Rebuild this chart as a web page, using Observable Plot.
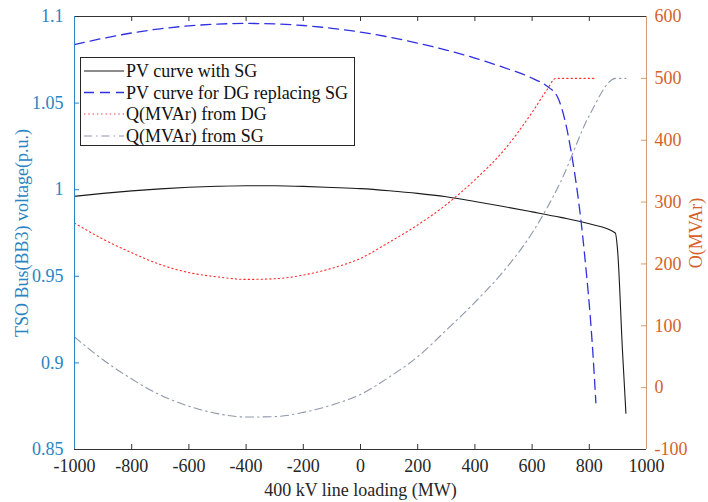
<!DOCTYPE html>
<html>
<head>
<meta charset="utf-8">
<script src="https://cdn.jsdelivr.net/npm/d3@7"></script>
<script src="https://cdn.jsdelivr.net/npm/@observablehq/plot@0.6"></script>
<style>
  html, body { margin: 0; padding: 0; background: #fff; }
  #wrap { position: relative; width: 708px; height: 502px; }
  #legend { position: absolute; left: 80px; top: 57px; }
</style>
</head>
<body>
<div id="wrap"></div>
<script>
// ---- data ----
const xTicks = [-1000, -800, -600, -400, -200, 0, 200, 400, 600, 800, 1000];
const vTicks = [0.85, 0.9, 0.95, 1, 1.05, 1.1];
const qTicks = [-100, 0, 100, 200, 300, 400, 500, 600];

const seriesNames = ["PV curve with SG", "PV curve for DG replacing SG", "Q(MVAr) from DG", "Q(MVAr) from SG"];

// PV curve with SG (left axis, p.u.)
const pvSG_x = [-1000, -900, -800, -700, -600, -500, -400, -300, -200, -100, 0, 100, 200, 300, 400, 500, 600, 700, 800, 891, 899, 916, 928];
const pvSG_v = [0.9962, 0.9979, 0.9993, 1.0005, 1.0014, 1.0020, 1.00232, 1.00226, 1.0019, 1.0013, 1.0006, 0.9994, 0.9979, 0.9959, 0.9932, 0.9903, 0.9872, 0.9840, 0.9803, 0.9750, 0.9648, 0.907, 0.871];

// PV curve for DG replacing SG (left axis, p.u.)
const pvDG_x = [-1000, -900, -800, -700, -600, -500, -400, -300, -200, -100, 0, 100, 200, 300, 400, 500, 600, 650, 689, 736, 782, 812, 823];
const pvDG_v = [1.0838, 1.0874, 1.0905, 1.0929, 1.0946, 1.0956, 1.0960, 1.0957, 1.0948, 1.0932, 1.0910, 1.0881, 1.0846, 1.0806, 1.0760, 1.0706, 1.0644, 1.0600, 1.0535, 1.0225, 0.965, 0.907, 0.877];

// Q(MVAr) from DG (right axis)
const qDG_x = [-1000, -900, -800, -700, -600, -500, -400, -300, -200, -100, 0, 100, 200, 300, 400, 500, 600, 650, 683, 823];
const qDG_q = [266, 240, 218, 199, 186, 179, 175, 176, 182, 193, 209, 235, 263, 296, 336, 383, 445, 480, 500, 500];

// Q(MVAr) from SG (right axis)
const qSG_x = [-1000, -900, -800, -700, -600, -500, -400, -300, -200, -100, 0, 100, 200, 300, 400, 500, 600, 700, 800, 893, 928];
const qSG_q = [82, 45, 14, -12, -30, -42, -47.5, -46.8, -40, -28, -11, 17, 50, 93, 138, 188, 250, 333, 440, 500, 500];

// ---- scales for the two y axes ----
const vDomain = [0.85, 1.1];
const qDomain = [-100, 600];
const toV = q => vDomain[0] + (q - qDomain[0]) / (qDomain[1] - qDomain[0]) * (vDomain[1] - vDomain[0]);
const fromV = v => qDomain[0] + (v - vDomain[0]) / (vDomain[1] - vDomain[0]) * (qDomain[1] - qDomain[0]);

const BLUE_AX = "#2a84c2";
const ORANGE_AX = "#d4622a";
const ORANGE_LINE = "#d49a74";
const DARK = "#333333";
const FONT = "'Liberation Serif', 'Times New Roman', Times, 'DejaVu Serif', serif";

const styles = [
  {stroke: "#1a1a1a", strokeWidth: 1.1, strokeDasharray: null},
  {stroke: "#3030e0", strokeWidth: 1.3, strokeDasharray: "10,6"},
  {stroke: "#ff2a2a", strokeWidth: 1.1, strokeDasharray: "1.3,3"},
  {stroke: "#8e98aa", strokeWidth: 1.1, strokeDasharray: "8,4,1.5,4"}
];

const tbl = (xs, ys) => xs.map((x, i) => ({x, y: ys[i]}));

const W = 708, H = 502, mL = 74, mR = 62, mT = 16, mB = 53;
const plotW = W - mL - mR, plotH = H - mT - mB;
const inner = a => a.slice(1, -1);

const lineOpts = (s) => {
  const o = {x: "x", stroke: s.stroke, strokeWidth: s.strokeWidth, curve: "monotone-x"};
  if (s.strokeDasharray) o.strokeDasharray = s.strokeDasharray;
  return o;
};

const chart = Plot.plot({
  width: W, height: H,
  marginLeft: mL, marginRight: mR, marginTop: mT, marginBottom: mB,
  style: {fontFamily: FONT, fontSize: "18px", background: "#fff", overflow: "visible"},
  x: {domain: [-1000, 1000], axis: null},
  y: {domain: vDomain, axis: null},
  marks: [
    // data lines
    Plot.line(tbl(pvSG_x, pvSG_v), {...lineOpts(styles[0]), y: "y"}),
    Plot.line(tbl(pvDG_x, pvDG_v), {...lineOpts(styles[1]), y: "y"}),
    Plot.line(tbl(qDG_x, qDG_q), {...lineOpts(styles[2]), y: d => toV(d.y)}),
    Plot.line(tbl(qSG_x, qSG_q), {...lineOpts(styles[3]), y: d => toV(d.y)}),
    // box lines
    Plot.ruleY([vDomain[1]], {stroke: DARK, strokeWidth: 1}),
    Plot.ruleY([vDomain[0]], {stroke: DARK, strokeWidth: 1}),
    Plot.ruleX([-1000], {stroke: BLUE_AX, strokeWidth: 1}),
    Plot.ruleX([1000], {stroke: ORANGE_LINE, strokeWidth: 1}),
    // inward ticks
    Plot.ruleX(inner(xTicks), {insetTop: plotH - 5, stroke: DARK}),
    Plot.ruleX(inner(xTicks), {insetBottom: plotH - 5, stroke: DARK}),
    Plot.ruleY(inner(vTicks), {insetRight: plotW - 5, stroke: BLUE_AX}),
    Plot.ruleY(inner(qTicks).map(toV), {insetLeft: plotW - 5, stroke: ORANGE_LINE}),
    // tick labels
    Plot.axisX(xTicks, {tickSize: 0, tickPadding: 10, tickFormat: d => String(d), fill: "#262626", label: null}),
    Plot.axisY(vTicks, {anchor: "left", tickSize: 0, tickPadding: 11, tickFormat: d => String(d), fill: BLUE_AX, label: null}),
    Plot.axisY(qTicks.map(toV), {anchor: "right", tickSize: 0, tickPadding: 8, tickFormat: v => String(Math.round(fromV(v))), fill: ORANGE_AX, label: null}),
    // axis titles
    Plot.text(["400 kV line loading (MW)"], {frameAnchor: "bottom", textAnchor: "middle", lineAnchor: "middle", dy: 41, fill: "#262626", fontSize: 18}),
    Plot.text(["TSO Bus(BB3) voltage(p.u.)"], {frameAnchor: "left", textAnchor: "middle", lineAnchor: "middle", rotate: -90, dx: -52, fill: BLUE_AX, fontSize: 18}),
    Plot.text(["O(MVAr)"], {frameAnchor: "right", textAnchor: "middle", lineAnchor: "middle", rotate: -90, dx: 50, fill: ORANGE_AX, fontSize: 18})
  ]
});

const wrap = document.getElementById("wrap");
wrap.appendChild(chart);

// legend (HTML overlay)
const lw = 275, lh = 89;
const ns = "http://www.w3.org/2000/svg";
const leg = document.createElementNS(ns, "svg");
leg.setAttribute("id", "legend");
leg.setAttribute("width", lw);
leg.setAttribute("height", lh);
leg.style.fontFamily = FONT;
leg.style.fontSize = "18px";
const box = document.createElementNS(ns, "rect");
box.setAttribute("x", 0.5); box.setAttribute("y", 0.5);
box.setAttribute("width", lw - 1); box.setAttribute("height", lh - 1);
box.setAttribute("fill", "#fff"); box.setAttribute("stroke", "#262626");
leg.appendChild(box);
const rowY = [14, 35.5, 57, 79];
seriesNames.forEach((name, i) => {
  const s = styles[i];
  const ln = document.createElementNS(ns, "line");
  ln.setAttribute("x1", 4); ln.setAttribute("x2", 44);
  ln.setAttribute("y1", rowY[i]); ln.setAttribute("y2", rowY[i]);
  ln.setAttribute("stroke", s.stroke);
  ln.setAttribute("stroke-width", s.strokeWidth);
  if (s.strokeDasharray) ln.setAttribute("stroke-dasharray", s.strokeDasharray);
  leg.appendChild(ln);
  const t = document.createElementNS(ns, "text");
  t.setAttribute("x", 46); t.setAttribute("y", rowY[i] + 6);
  t.setAttribute("fill", "#111");
  t.textContent = name;
  leg.appendChild(t);
});
wrap.appendChild(leg);
</script>
</body>
</html>
